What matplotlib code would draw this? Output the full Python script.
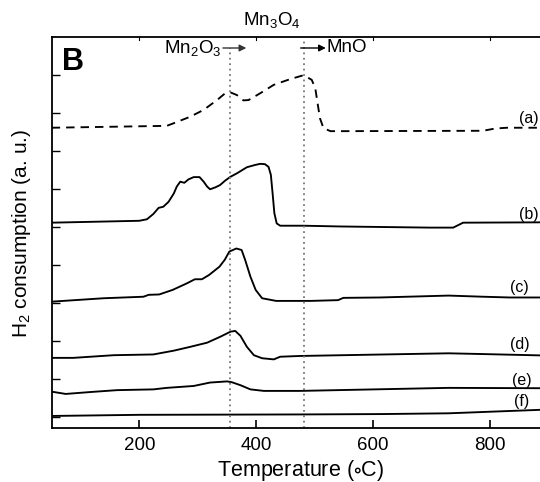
import matplotlib
matplotlib.use("Agg")
import matplotlib.pyplot as plt

plt.rcParams['font.family'] = ['Liberation Sans', 'DejaVu Sans']
plt.rcParams['mathtext.fontset'] = 'custom'
plt.rcParams['mathtext.rm'] = 'Liberation Sans'
plt.rcParams['mathtext.it'] = 'Liberation Sans:italic'

# ---- data (temperature in C, H2 consumption in arbitrary units) ----
T_a = [50, 247, 259, 287, 310, 333, 347, 356, 367, 378, 387, 407, 430, 458, 478, 484,
       495, 501, 505, 509, 515, 527, 544, 788, 809, 829, 900]
H_a = [7.61, 7.66, 7.73, 7.90, 8.08, 8.34, 8.52, 8.54, 8.47, 8.33, 8.34, 8.52, 8.74, 8.89,
       8.98, 8.97, 8.87, 8.65, 8.25, 7.86, 7.60, 7.52, 7.52, 7.53, 7.59, 7.61, 7.61]

T_b = [50, 200, 213, 224, 233, 241, 250, 259, 264, 270, 277, 284, 293, 303, 310, 316, 321,
       330, 338, 347, 356, 367, 384, 398, 407, 415, 421, 425, 428, 431, 435, 441, 481, 544,
       697, 737, 754, 900]
H_b = [5.11, 5.16, 5.20, 5.34, 5.50, 5.53, 5.66, 5.88, 6.06, 6.19, 6.16, 6.25, 6.31, 6.31,
       6.19, 6.06, 5.99, 6.04, 6.10, 6.22, 6.32, 6.41, 6.57, 6.63, 6.66, 6.65, 6.58, 6.37,
       5.88, 5.36, 5.09, 5.03, 5.03, 5.01, 4.98, 4.98, 5.11, 5.12]

T_c = [50, 139, 207, 216, 234, 257, 281, 295, 307, 319, 337, 346, 354, 366, 375, 381, 390,
       399, 410, 434, 493, 540, 549, 611, 729, 788, 834, 900]
H_c = [3.03, 3.12, 3.16, 3.21, 3.22, 3.34, 3.51, 3.62, 3.62, 3.73, 3.95, 4.13, 4.35, 4.43,
       4.39, 4.13, 3.69, 3.34, 3.12, 3.05, 3.05, 3.07, 3.13, 3.14, 3.19, 3.16, 3.14, 3.14]

T_d = [50, 87, 156, 224, 259, 287, 316, 339, 356, 364, 373, 384, 396, 410, 430, 441, 475,
       729, 788, 900]
H_d = [1.55, 1.55, 1.62, 1.64, 1.74, 1.84, 1.95, 2.11, 2.24, 2.26, 2.13, 1.84, 1.62, 1.54,
       1.51, 1.58, 1.60, 1.67, 1.65, 1.61]

T_e = [50, 74, 116, 162, 224, 247, 293, 321, 350, 358, 373, 390, 413, 475, 729, 900]
H_e = [0.66, 0.60, 0.65, 0.70, 0.72, 0.76, 0.81, 0.90, 0.93, 0.91, 0.83, 0.72, 0.68, 0.68,
       0.76, 0.75]

T_f = [50, 200, 475, 614, 729, 900]
H_f = [0.02, 0.05, 0.06, 0.07, 0.09, 0.19]

curve_labels = ['(a)', '(b)', '(c)', '(d)', '(e)', '(f)']
label_T = [850, 850, 834, 834, 838, 841]
label_H = [7.66, 5.14, 3.21, 1.71, 0.75, 0.195]

phase_T = [355, 481]
xticks = [200, 400, 600, 800]
yticks = list(range(10))

# ---- figure ----
fig = plt.figure(figsize=(5.4, 4.82), dpi=100)
ax = fig.add_axes([0.0957, 0.1114, 0.920, 0.8125])

lw = 1.35
ax.plot(T_a, H_a, color='black', lw=lw, linestyle=(0, (4.5, 3.2)),
        dash_joinstyle='round')
for T, H in [(T_b, H_b), (T_c, H_c), (T_d, H_d), (T_e, H_e), (T_f, H_f)]:
    ax.plot(T, H, color='black', lw=lw, solid_joinstyle='round')

ax.axvline(phase_T[0], ymin=0, ymax=0.97, color='#777777', lw=1.3, linestyle=(0, (1, 2)))
ax.axvline(phase_T[1], ymin=0, ymax=0.99, color='#777777', lw=1.3, linestyle=(0, (1, 2)))

for lab, tx, hy in zip(curve_labels, label_T, label_H):
    ax.text(tx, hy, lab, fontsize=11.5, ha='left', va='bottom', clip_on=False)

ax.set_xlim(50, 900)
ax.set_ylim(-0.305, 10.008)
ax.set_xticks(xticks)
ax.set_yticks(yticks)
ax.set_yticklabels([])
ax.tick_params(axis='x', which='major', direction='in', length=6, width=1.2,
               labelsize=13.5, pad=6, top=False)
ax.tick_params(axis='y', which='major', direction='in', length=6, width=1.0)
for s in ax.spines.values():
    s.set_linewidth(1.3)
ax.spines['right'].set_visible(False)

# short ticks on top axis
for t in xticks:
    ax.plot([t, t], [10.008, 9.93], color='black', lw=0.8, clip_on=False)

ax.set_xlabel(r'Temperature ($\mathregular{\circ}$C)', fontsize=15.5, labelpad=3)
ax.set_ylabel(r'$\mathregular{H_2}$ consumption (a. u.)', fontsize=15)
ax.yaxis.set_label_coords(-0.038, 0.497)

ax.text(0.02, 0.915, 'B', transform=ax.transAxes, fontsize=22, fontweight='bold',
        ha='left', va='baseline')

# phase annotations
ax.text(340, 9.71, r'$\mathregular{Mn_2O_3}$', fontsize=13.5, ha='right', va='center')
ax.annotate('', xy=(383, 9.71), xytext=(343, 9.71),
            arrowprops=dict(arrowstyle='-|>', lw=1.0, color='#333333', mutation_scale=10,
                            shrinkA=0, shrinkB=0))
ax.text(427, 10.45, r'$\mathregular{Mn_3O_4}$', fontsize=13.5, ha='center', va='center',
        clip_on=False)
ax.annotate('', xy=(519, 9.71), xytext=(476, 9.71),
            arrowprops=dict(arrowstyle='-|>', lw=1.0, color='black', mutation_scale=10,
                            shrinkA=0, shrinkB=0))
ax.text(521, 9.71, 'MnO', fontsize=13.5, ha='left', va='center')

fig.savefig('out.png', dpi=100)
